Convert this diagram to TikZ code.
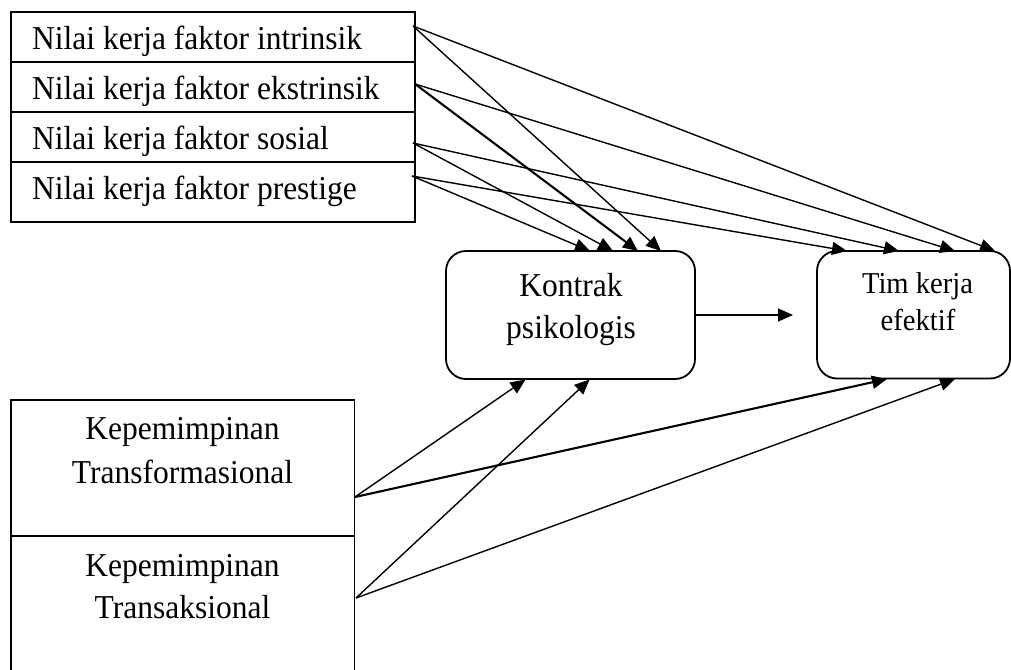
\documentclass[tikz,border=0pt]{standalone}
\usepackage{fontspec}
\setmainfont{Liberation Serif}
\usetikzlibrary{arrows.meta}
\newcommand{\tallt}[1]{\scalebox{1}[1.06]{#1}}
\begin{document}
\begin{tikzpicture}[x=1pt,y=-1pt,
  rowbox/.style={draw, line width=1.6pt, inner sep=0pt},
  rbox/.style={draw, line width=1.8pt, rounded corners=20pt, inner sep=0pt},
  lbl/.style={inner sep=0pt, font=\fontsize{31.5}{38}\selectfont},
  lblsm/.style={inner sep=0pt, font=\fontsize{28.6}{35}\selectfont},
  conn/.style={line width=1.4pt, -{Triangle[length=15pt,width=13pt]}},
  connb/.style={conn, line width=2.1pt}]
\useasboundingbox (0,0) rectangle (1011,669);
% top stacked box
\node[rowbox, minimum width=404pt, minimum height=50pt] (r1) at (213,37) {};
\node[rowbox, minimum width=404pt, minimum height=50pt] (r2) at (213,87) {};
\node[rowbox, minimum width=404pt, minimum height=50pt] (r3) at (213,137) {};
\node[rowbox, minimum width=404pt, minimum height=60pt] (r4) at (213,192) {};
\node[lbl, anchor=base west] (t1) at (32,50) {\tallt{Nilai kerja faktor intrinsik}};
\node[lbl, anchor=base west] (t2) at (32,99.3) {\tallt{Nilai kerja faktor ekstrinsik}};
\node[lbl, anchor=base west] (t3) at (32,149) {\tallt{Nilai kerja faktor sosial}};
\node[lbl, anchor=base west] (t4) at (32,199.3) {\tallt{Nilai kerja faktor prestige}};
% Kontrak psikologis
\node[rbox, minimum width=249pt, minimum height=128pt] (kp) at (570.5,315) {};
\node[lbl, anchor=base] (kp1) at (571,296) {\tallt{Kontrak}};
\node[lbl, anchor=base] (kp2) at (571,338) {\tallt{psikologis}};
% Tim kerja efektif
\node[rbox, minimum width=193pt, minimum height=127.5pt] (tk) at (913.5,314.75) {};
\node[lblsm, anchor=base] (tk1) at (917.5,293.3) {\tallt{Tim kerja}};
\node[lblsm, anchor=base] (tk2) at (918,330) {\tallt{efektif}};
% bottom stacked box
\node[rowbox, minimum width=343.5pt, minimum height=136pt] (tf) at (182.75,468) {};
\node[rowbox, minimum width=343.5pt, minimum height=144pt] (ts) at (182.75,608) {};
\node[lbl, anchor=base] (tf1) at (182.5,439.5) {\tallt{Kepemimpinan}};
\node[lbl, anchor=base] (tf2) at (182.5,483.3) {\tallt{Transformasional}};
\node[lbl, anchor=base] (ts1) at (182.5,576.5) {\tallt{Kepemimpinan}};
\node[lbl, anchor=base] (ts2) at (182.5,618.5) {\tallt{Transaksional}};
% connector end points
\coordinate (s1) at (413,26);
\coordinate (s2) at (415,84);
\coordinate (s3) at (413,143);
\coordinate (s4) at (412,176);
\coordinate (k1) at (590,251);
\coordinate (k2) at (613,251);
\coordinate (k3) at (638,251);
\coordinate (k4) at (661,251);
\coordinate (m1) at (847,251);
\coordinate (m2) at (899,251);
\coordinate (m3) at (955,251);
\coordinate (m4) at (995,251);
\coordinate (b1) at (355,497);
\coordinate (b2) at (356,598);
\coordinate (kb1) at (525.5,379.5);
\coordinate (kb2) at (589.6,379.5);
\coordinate (mb1) at (887,379);
\coordinate (mb2) at (955,379);
\coordinate (kt) at (793,315);
% connectors
\draw[conn] (s1) -- (k4);
\draw[conn] (s1) -- (m4);
\draw[connb] (s2) -- (k3);
\draw[conn] (s2) -- (m3);
\draw[conn] (s3) -- (k2);
\draw[conn] (s3) -- (m2);
\draw[conn] (s4) -- (k1);
\draw[conn] (s4) -- (m1);
\draw[conn] (b1) -- (kb1);
\draw[connb] (b1) -- (mb1);
\draw[conn] (b2) -- (kb2);
\draw[conn] (b2) -- (mb2);
\draw[conn] (kp.east) -- (kt);
\end{tikzpicture}
\end{document}
